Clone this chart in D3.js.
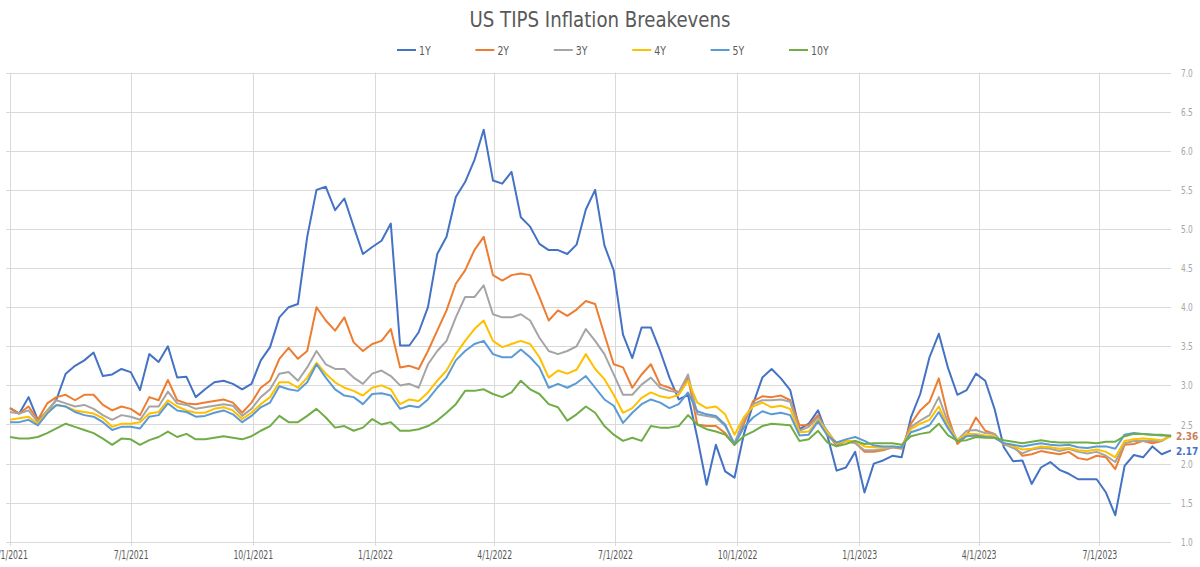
<!DOCTYPE html>
<html>
<head>
<meta charset="utf-8">
<script src="https://cdn.jsdelivr.net/npm/d3@7"></script>
<style>
  body { margin: 0; background: #fff; }
  svg text { font-family: "DejaVu Sans Condensed", "DejaVu Sans", sans-serif; }
</style>
</head>
<body>
<svg id="chart"></svg>
<script>
// Weekly readings, first point 4/1/2021
const startDate = '4/1/2021';

const seriesNames = ['1Y', '2Y', '3Y', '4Y', '5Y', '10Y'];
const seriesColors = ['#4472c4', '#ed7d31', '#a5a5a5', '#ffc000', '#5b9bd5', '#70ad47'];

const be1Y = [
  2.71, 2.64, 2.85, 2.56, 2.66, 2.82, 3.15, 3.25, 3.32, 3.42, 3.12, 3.14, 3.21, 3.17, 2.94, 3.40, 3.30, 3.50, 3.10, 3.11, 2.85,
  2.95, 3.04, 3.06, 3.02, 2.95, 3.02, 3.32, 3.49, 3.87, 4.00, 4.04, 4.90, 5.50, 5.54, 5.24, 5.39, 5.03, 4.68, 4.77, 4.85,
  5.07, 3.51, 3.51, 3.68, 4.00, 4.68, 4.90, 5.41, 5.60, 5.88, 6.27, 5.62, 5.58, 5.73, 5.15, 5.03, 4.81, 4.73, 4.73, 4.68,
  4.80, 5.25, 5.50, 4.79, 4.47, 3.65, 3.35, 3.74, 3.74, 3.44, 3.10, 2.82, 2.88, 2.33, 1.73, 2.24, 1.90, 1.82, 2.37, 2.76,
  3.10, 3.21, 3.09, 2.94, 2.44, 2.51, 2.68, 2.36, 1.91, 1.95, 2.15, 1.63, 2.00, 2.04, 2.10, 2.08, 2.59, 2.89, 3.36, 3.66,
  3.22, 2.88, 2.94, 3.15, 3.06, 2.70, 2.21, 2.03, 2.04, 1.74, 1.95, 2.02, 1.92, 1.87, 1.80, 1.80, 1.80, 1.63, 1.34, 1.97,
  2.11, 2.08, 2.22, 2.12, 2.17
];
const be2Y = [
  2.71, 2.64, 2.73, 2.56, 2.77, 2.85, 2.88, 2.81, 2.88, 2.88, 2.75, 2.68, 2.73, 2.70, 2.62, 2.85, 2.81, 3.07, 2.81, 2.77, 2.76,
  2.78, 2.80, 2.82, 2.78, 2.65, 2.78, 2.97, 3.06, 3.34, 3.48, 3.34, 3.44, 4.00, 3.83, 3.70, 3.87, 3.55, 3.44, 3.53, 3.57,
  3.72, 3.23, 3.25, 3.21, 3.44, 3.70, 3.96, 4.30, 4.47, 4.73, 4.90, 4.41, 4.34, 4.41, 4.43, 4.41, 4.13, 3.83, 3.96, 3.89,
  3.97, 4.08, 4.04, 3.65, 3.27, 3.23, 2.97, 3.14, 3.27, 3.01, 2.97, 2.91, 3.10, 2.50, 2.48, 2.48, 2.39, 2.24, 2.50, 2.80,
  2.86, 2.85, 2.87, 2.81, 2.49, 2.49, 2.62, 2.38, 2.23, 2.29, 2.27, 2.15, 2.15, 2.17, 2.21, 2.19, 2.51, 2.68, 2.79, 3.09,
  2.60, 2.25, 2.36, 2.59, 2.42, 2.38, 2.24, 2.23, 2.10, 2.12, 2.16, 2.14, 2.12, 2.15, 2.07, 2.05, 2.10, 2.08, 1.93, 2.24,
  2.25, 2.29, 2.26, 2.29, 2.36
];
const be3Y = [
  2.66, 2.64, 2.68, 2.53, 2.68, 2.81, 2.77, 2.73, 2.75, 2.70, 2.62, 2.56, 2.62, 2.60, 2.56, 2.73, 2.73, 2.92, 2.77, 2.75, 2.70,
  2.72, 2.74, 2.76, 2.74, 2.61, 2.70, 2.85, 2.95, 3.15, 3.17, 3.06, 3.23, 3.44, 3.27, 3.21, 3.21, 3.10, 3.02, 3.15, 3.19,
  3.12, 3.00, 3.02, 2.97, 3.27, 3.44, 3.57, 3.87, 4.13, 4.13, 4.28, 3.91, 3.87, 3.87, 3.91, 3.83, 3.61, 3.44, 3.40, 3.44,
  3.50, 3.72, 3.57, 3.40, 3.14, 2.88, 2.88, 3.01, 3.10, 2.97, 2.93, 2.91, 3.14, 2.63, 2.61, 2.59, 2.48, 2.26, 2.56, 2.76,
  2.81, 2.81, 2.82, 2.79, 2.42, 2.47, 2.59, 2.42, 2.25, 2.29, 2.26, 2.17, 2.17, 2.18, 2.21, 2.20, 2.47, 2.55, 2.62, 2.85,
  2.52, 2.30, 2.42, 2.43, 2.39, 2.38, 2.25, 2.20, 2.13, 2.18, 2.20, 2.19, 2.16, 2.19, 2.15, 2.13, 2.15, 2.10, 2.02, 2.26,
  2.29, 2.29, 2.29, 2.29, 2.36
];
const be4Y = [
  2.56, 2.58, 2.60, 2.51, 2.66, 2.75, 2.73, 2.68, 2.66, 2.64, 2.58, 2.47, 2.51, 2.51, 2.53, 2.64, 2.66, 2.81, 2.73, 2.68, 2.65,
  2.65, 2.70, 2.72, 2.68, 2.57, 2.65, 2.76, 2.85, 3.04, 3.04, 2.97, 3.10, 3.29, 3.15, 3.04, 2.97, 2.93, 2.87, 2.97, 3.00,
  2.95, 2.76, 2.82, 2.80, 2.91, 3.06, 3.19, 3.40, 3.57, 3.72, 3.83, 3.57, 3.49, 3.53, 3.57, 3.53, 3.36, 3.10, 3.19, 3.15,
  3.20, 3.40, 3.21, 3.08, 2.88, 2.65, 2.71, 2.84, 2.91, 2.86, 2.84, 2.88, 3.06, 2.78, 2.71, 2.73, 2.63, 2.37, 2.59, 2.73,
  2.78, 2.72, 2.74, 2.70, 2.40, 2.41, 2.56, 2.40, 2.26, 2.29, 2.29, 2.22, 2.21, 2.20, 2.22, 2.21, 2.44, 2.51, 2.56, 2.73,
  2.48, 2.30, 2.38, 2.38, 2.36, 2.35, 2.26, 2.22, 2.18, 2.19, 2.22, 2.21, 2.19, 2.20, 2.17, 2.16, 2.18, 2.15, 2.08, 2.29,
  2.31, 2.32, 2.31, 2.30, 2.35
];
const be5Y = [
  2.53, 2.53, 2.56, 2.49, 2.64, 2.75, 2.73, 2.66, 2.62, 2.60, 2.53, 2.43, 2.47, 2.47, 2.45, 2.60, 2.62, 2.77, 2.68, 2.66, 2.60,
  2.61, 2.65, 2.68, 2.63, 2.53, 2.61, 2.72, 2.78, 2.99, 2.95, 2.93, 3.04, 3.27, 3.10, 2.95, 2.87, 2.85, 2.76, 2.89, 2.90,
  2.87, 2.70, 2.74, 2.72, 2.82, 2.97, 3.10, 3.32, 3.44, 3.53, 3.57, 3.40, 3.36, 3.36, 3.46, 3.36, 3.23, 2.97, 3.02, 2.97,
  3.03, 3.12, 2.97, 2.82, 2.74, 2.52, 2.65, 2.76, 2.82, 2.78, 2.71, 2.76, 2.91, 2.67, 2.63, 2.61, 2.50, 2.24, 2.46, 2.59,
  2.67, 2.63, 2.65, 2.62, 2.36, 2.37, 2.54, 2.36, 2.27, 2.31, 2.34, 2.29, 2.23, 2.22, 2.22, 2.21, 2.40, 2.44, 2.49, 2.66,
  2.45, 2.28, 2.35, 2.36, 2.34, 2.33, 2.26, 2.24, 2.22, 2.24, 2.26, 2.24, 2.23, 2.24, 2.21, 2.20, 2.22, 2.22, 2.19, 2.37,
  2.39, 2.38, 2.37, 2.36, 2.36
];
const be10Y = [
  2.34, 2.32, 2.32, 2.34, 2.39, 2.45, 2.51, 2.47, 2.43, 2.39, 2.32, 2.24, 2.32, 2.31, 2.24, 2.30, 2.34, 2.41, 2.34, 2.38, 2.31,
  2.31, 2.33, 2.35, 2.33, 2.31, 2.35, 2.42, 2.48, 2.61, 2.53, 2.53, 2.61, 2.70, 2.59, 2.46, 2.48, 2.42, 2.46, 2.57, 2.50,
  2.53, 2.42, 2.42, 2.44, 2.48, 2.55, 2.65, 2.76, 2.93, 2.93, 2.95, 2.89, 2.85, 2.91, 3.06, 2.95, 2.89, 2.76, 2.72, 2.55,
  2.63, 2.73, 2.65, 2.48, 2.37, 2.29, 2.33, 2.29, 2.48, 2.46, 2.46, 2.48, 2.62, 2.50, 2.44, 2.41, 2.37, 2.24, 2.35, 2.41,
  2.48, 2.51, 2.50, 2.49, 2.29, 2.31, 2.42, 2.27, 2.22, 2.25, 2.29, 2.25, 2.26, 2.26, 2.26, 2.24, 2.35, 2.38, 2.40, 2.51,
  2.36, 2.29, 2.30, 2.34, 2.33, 2.33, 2.30, 2.28, 2.26, 2.28, 2.30, 2.28, 2.27, 2.27, 2.27, 2.27, 2.26, 2.28, 2.28, 2.35,
  2.38, 2.38, 2.37, 2.37, 2.35
];

const xTickLabels = ['4/1/2021', '7/1/2021', '10/1/2021', '1/1/2022', '4/1/2022', '7/1/2022',
  '10/1/2022', '1/1/2023', '4/1/2023', '7/1/2023'];
const yTickValues = [1.0, 1.5, 2.0, 2.5, 3.0, 3.5, 4.0, 4.5, 5.0, 5.5, 6.0, 6.5, 7.0];

const allSeries = [be1Y, be2Y, be3Y, be4Y, be5Y, be10Y];

const width = 1200;
const height = 567;
const plot = { left: 10, right: 1171, top: 72.6, bottom: 541.8 };

const parseDate = d3.timeParse('%m/%d/%Y');
const start = parseDate(startDate);
const dates = be1Y.map((d, i) => d3.timeDay.offset(start, i * 7));

// squeeze text horizontally, the original uses a narrow font
function condense(sel, factor) {
  sel.each(function() {
    const w = this.getComputedTextLength();
    d3.select(this)
      .attr('textLength', w * factor)
      .attr('lengthAdjust', 'spacingAndGlyphs');
  });
}

const svg = d3.select('#chart')
  .attr('width', width)
  .attr('height', height)
  .attr('viewBox', `0 0 ${width} ${height}`);

const x = d3.scaleTime()
  .domain(d3.extent(dates))
  .range([plot.left, plot.right]);

const y = d3.scaleLinear()
  .domain([1, 7])
  .range([plot.bottom, plot.top]);

const gridColor = '#d9d9d9';

// horizontal grid
svg.append('g')
  .selectAll('line')
  .data(yTickValues)
  .join('line')
  .attr('x1', plot.left - 4)
  .attr('x2', plot.right)
  .attr('y1', d => Math.round(y(d)) + 0.5)
  .attr('y2', d => Math.round(y(d)) + 0.5)
  .attr('stroke', gridColor)
  .attr('stroke-width', 1);

// vertical grid at quarter starts
const xTicks = xTickLabels.map(parseDate);
svg.append('g')
  .selectAll('line')
  .data(xTicks)
  .join('line')
  .attr('x1', d => Math.round(x(d)) + 0.5)
  .attr('x2', d => Math.round(x(d)) + 0.5)
  .attr('y1', plot.top)
  .attr('y2', plot.bottom + 4)
  .attr('stroke', gridColor)
  .attr('stroke-width', 1);

// x axis labels
const xAxis = d3.axisBottom(x)
  .tickValues(xTicks)
  .tickSize(0)
  .tickPadding(8)
  .tickFormat((d, i) => xTickLabels[i]);

svg.append('g')
  .attr('transform', `translate(0, ${plot.bottom + 1})`)
  .call(xAxis)
  .call(g => g.select('.domain').remove())
  .call(g => g.selectAll('text')
    .attr('fill', '#595959')
    .style('font-size', '12px')
    .call(condense, 0.72));

// y axis labels (right side)
const yAxis = d3.axisRight(y)
  .tickValues(yTickValues)
  .tickSize(0)
  .tickPadding(0)
  .tickFormat(d3.format('.1f'));

svg.append('g')
  .attr('transform', `translate(1181, 0)`)
  .call(yAxis)
  .call(g => g.select('.domain').remove())
  .call(g => g.selectAll('text')
    .attr('fill', '#a6a6a6')
    .style('font-size', '11px')
    .call(condense, 0.75));

// lines
const line = d3.line()
  .x((d, i) => x(dates[i]))
  .y(d => y(d));

svg.append('g')
  .selectAll('path')
  .data(allSeries)
  .join('path')
  .attr('fill', 'none')
  .attr('stroke', (d, i) => seriesColors[i])
  .attr('stroke-width', 2)
  .attr('stroke-linejoin', 'round')
  .attr('d', line);

// end value labels
const endLabels = [
  { series: be2Y, color: '#c9805c' },
  { series: be1Y, color: '#4472c4' },
];
svg.append('g')
  .selectAll('text')
  .data(endLabels)
  .join('text')
  .attr('x', 1176)
  .attr('y', d => y(d.series[d.series.length - 1]) + 1)
  .attr('dy', '0.35em')
  .attr('fill', d => d.color)
  .style('font-size', '10px')
  .style('font-weight', 'bold')
  .text(d => d3.format('.2f')(d.series[d.series.length - 1]));

// title
svg.append('text')
  .attr('x', width / 2)
  .attr('y', 27)
  .attr('text-anchor', 'middle')
  .attr('fill', '#595959')
  .style('font-size', '22px')
  .text('US TIPS Inflation Breakevens')
  .attr('textLength', 261)
  .attr('lengthAdjust', 'spacingAndGlyphs');

// legend
const legend = svg.append('g')
  .attr('transform', 'translate(397, 50)');

const item = legend.selectAll('g')
  .data(seriesNames)
  .join('g')
  .attr('transform', (d, i) => `translate(${i * 78.4}, 0)`);

item.append('line')
  .attr('x1', 0)
  .attr('x2', 19)
  .attr('stroke', (d, i) => seriesColors[i])
  .attr('stroke-width', 2);

item.append('text')
  .attr('x', 22)
  .attr('dy', '0.35em')
  .attr('fill', '#595959')
  .style('font-size', '13px')
  .text(d => d)
  .call(condense, 0.8);
</script>
</body>
</html>
